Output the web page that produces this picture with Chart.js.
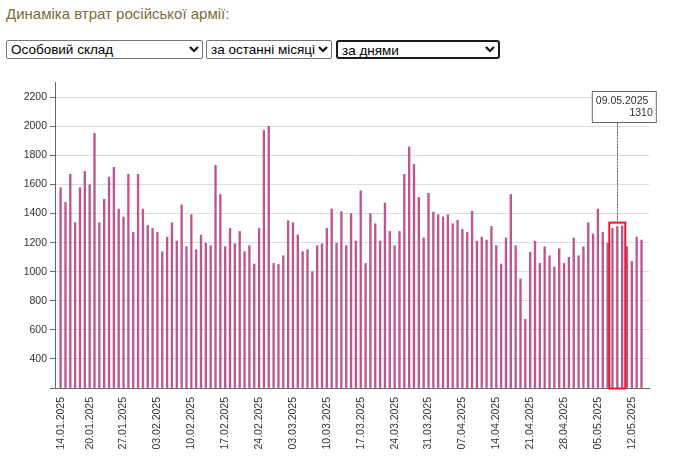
<!DOCTYPE html>
<html>
<head>
<meta charset="utf-8">
<style>
    html, body { margin: 0; padding: 0; background: #fff; overflow: hidden; }
    body { width: 680px; height: 458px; position: relative; font-family: "Liberation Sans", Arial, sans-serif; }
    h4 { position: absolute; left: 6px; top: 5px; margin: 0; font-size: 15px; font-weight: normal; color: #7f6a3a; }
    select { position: absolute; top: 40px; height: 19px; padding: 0; font-family: "Liberation Sans", Arial, sans-serif; font-size: 13.5px; background: #fff; color: #000; border: 1px solid #767676; border-radius: 2px; }
    #chartBox { position: absolute; left: 0; top: 70px; }
</style>
</head>
<body>
<h4>Динаміка втрат російської армії:</h4>
<select style="left: 6px; width: 197px;"><option>Особовий склад</option></select>
<select style="left: 206px; width: 126px;"><option>за останні місяці</option></select>
<select style="left: 336px; width: 164px; border: 2px solid #1a1a1a; border-radius: 3px;"><option>за днями</option></select>
<div id="chartBox"><canvas id="lossChart" width="680" height="388"></canvas></div>

<script src="https://cdn.jsdelivr.net/npm/chart.js@4"></script>
<script>
// daily losses starting from 14.01.2025 (one value per day)
const dailyLosses = [
    1578, 1477, 1670, 1337, 1578, 1690, 1598, 1952, 1337, 1498, 1651, 1718, 1431, 1376, 1670, 1270,
    1670, 1431, 1319, 1298, 1270, 1138, 1238, 1337, 1211, 1459, 1172, 1392, 1151, 1252, 1197, 1179,
    1732, 1532, 1172, 1298, 1192, 1277, 1138, 1179, 1053, 1298, 1972, 2000, 1057, 1050, 1110, 1351,
    1337, 1252, 1138, 1151, 1000, 1179, 1192, 1298, 1431, 1197, 1413, 1179, 1399, 1211, 1557, 1057,
    1399, 1330, 1211, 1472, 1277, 1179, 1277, 1670, 1858, 1738, 1511, 1232, 1539, 1410, 1392, 1378,
    1392, 1330, 1353, 1291, 1270, 1417, 1211, 1238, 1218, 1312, 1179, 1053, 1232, 1532, 1179, 950,
    672, 1133, 1211, 1057, 1172, 1110, 1032, 1158, 1057, 1099, 1232, 1110, 1172, 1337, 1259, 1431,
    1270, 1197, 1298, 1310, 1316, 1172, 1071, 1238, 1218
];

// day number (counted from the first bar) and label of each x tick
const tickDays = [0, 6, 13, 20, 27, 34, 41, 48, 55, 62, 69, 76, 83, 90, 97, 104, 111, 118];
const tickLabels = [
    "14.01.2025", "20.01.2025", "27.01.2025", "03.02.2025", "10.02.2025", "17.02.2025",
    "24.02.2025", "03.03.2025", "10.03.2025", "17.03.2025", "24.03.2025", "31.03.2025",
    "07.04.2025", "14.04.2025", "21.04.2025", "28.04.2025", "05.05.2025", "12.05.2025"
];
const yTicks = [200, 400, 600, 800, 1000, 1200, 1400, 1600, 1800, 2000, 2200];

const selectedDay = 115;
const selectedLabel = "09.05.2025";

const axisColor = "#666";
const textColor = "#333";
const fontSpec = { family: "'Liberation Sans', Arial, sans-serif", size: 10.5 };

// selection frame + dashed line + value box
const selectionPlugin = {
    id: "selection",
    afterDraw(chart) {
        const ctx = chart.ctx;
        const x = chart.scales.x;
        const y = chart.scales.y;
        const cx = x.getPixelForValue(selectedDay);
        const value = dailyLosses[selectedDay];
        const top = y.getPixelForValue(value) - 4;
        const bottom = y.bottom + 0.5;
        const step = x.getPixelForValue(1) - x.getPixelForValue(0);

        ctx.save();
        ctx.strokeStyle = "#e3172e";
        ctx.lineWidth = 2;
        ctx.strokeRect(cx - step * 1.65, top, step * 3.3, bottom - top);

        const boxLeft = cx - 25;
        const boxRight = cx + 39;
        const boxTop = 21.5;
        const boxBottom = 52.5;

        ctx.strokeStyle = "#555";
        ctx.lineWidth = 1;
        ctx.setLineDash([2, 1]);
        ctx.beginPath();
        ctx.moveTo(Math.round(cx) + 0.5, boxBottom);
        ctx.lineTo(Math.round(cx) + 0.5, top);
        ctx.stroke();
        ctx.setLineDash([]);

        ctx.fillStyle = "rgba(255,255,255,0.9)";
        ctx.fillRect(boxLeft, boxTop, boxRight - boxLeft, boxBottom - boxTop);
        ctx.strokeStyle = "#666";
        ctx.strokeRect(boxLeft, boxTop, boxRight - boxLeft, boxBottom - boxTop);

        ctx.fillStyle = textColor;
        ctx.font = "10.5px 'Liberation Sans', Arial, sans-serif";
        ctx.textBaseline = "middle";
        ctx.textAlign = "left";
        ctx.fillText(selectedLabel, boxLeft + 3.5, boxTop + 10);
        ctx.textAlign = "right";
        ctx.fillText(String(value), boxRight - 3.5, boxTop + 22);
        ctx.restore();
    }
};

new Chart(document.getElementById("lossChart"), {
    type: "bar",
    data: {
        datasets: [{
            data: dailyLosses.map((v, i) => ({ x: i, y: v })),
            backgroundColor: "rgba(178, 58, 125, 0.85)",
            barThickness: 1.7,
            base: 200
        }]
    },
    options: {
        responsive: false,
        animation: false,
        layout: { padding: { left: 0, right: 31, top: 12, bottom: 0 } },
        plugins: {
            legend: { display: false },
            tooltip: { enabled: false }
        },
        scales: {
            x: {
                type: "linear",
                offset: false,
                min: -1.16,
                max: 121.55,
                afterFit(scale) { scale.height = 70; },
                afterBuildTicks(scale) {
                    scale.ticks = tickDays.map(d => ({ value: d }));
                },
                grid: { display: false, drawTicks: true, tickLength: 5, tickColor: axisColor },
                border: { color: axisColor, width: 1 },
                ticks: {
                    autoSkip: false,
                    minRotation: 90,
                    maxRotation: 90,
                    padding: 4,
                    color: textColor,
                    font: fontSpec,
                    callback: (value) => tickLabels[tickDays.indexOf(value)]
                }
            },
            y: {
                min: 200,
                max: 2305,
                afterFit(scale) { scale.width = 55; },
                afterBuildTicks(scale) {
                    scale.ticks = yTicks.map(v => ({ value: v }));
                },
                grid: { color: "#dcdcdc", lineWidth: 1, tickLength: 5, tickColor: axisColor },
                border: { color: axisColor, width: 1 },
                ticks: {
                    padding: 3,
                    color: textColor,
                    font: fontSpec,
                    callback: (value) => (value === 200 ? "" : value)
                }
            }
        }
    },
    plugins: [selectionPlugin]
});
</script>
</body>
</html>
